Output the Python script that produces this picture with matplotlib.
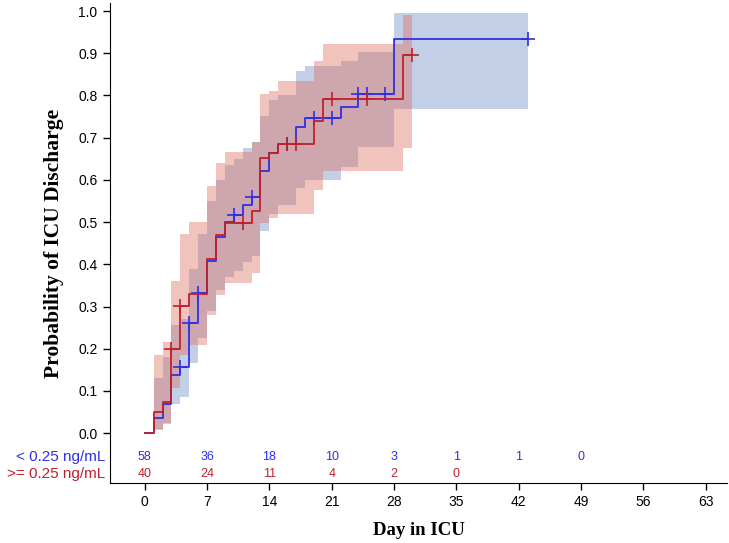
import numpy as np
import matplotlib.pyplot as plt
import matplotlib.transforms as mtransforms

# < 0.25 ng/mL group: step times, estimate, lower / upper CL
low_t = [0, 1, 2, 3, 4, 5, 6, 7, 8, 9, 10, 11, 12, 13, 14, 15, 17, 18, 22, 24, 28]
low_s = [0, 0.035, 0.069, 0.138, 0.156, 0.260, 0.333, 0.408, 0.464, 0.500, 0.518,
         0.540, 0.559, 0.622, 0.664, 0.686, 0.726, 0.746, 0.772, 0.803, 0.934]
low_lcl = [0, 0.007, 0.022, 0.070, 0.086, 0.167, 0.225, 0.290, 0.340, 0.370, 0.385,
           0.405, 0.420, 0.480, 0.520, 0.540, 0.580, 0.600, 0.630, 0.678, 0.768]
low_ucl = [0, 0.130, 0.180, 0.256, 0.270, 0.390, 0.473, 0.550, 0.600, 0.635, 0.650,
           0.675, 0.690, 0.751, 0.790, 0.800, 0.858, 0.870, 0.881, 0.904, 0.995]
low_end = 43
low_cens = [4, 5, 6, 10, 12, 16, 19, 21, 24, 25, 27, 43]

# >= 0.25 ng/mL group
high_t = [0, 1, 2, 3, 4, 5, 7, 8, 9, 12, 13, 14, 15, 19, 20, 29]
high_s = [0, 0.050, 0.074, 0.200, 0.302, 0.329, 0.413, 0.470, 0.498, 0.526,
          0.652, 0.663, 0.686, 0.740, 0.792, 0.897]
high_lcl = [0, 0.011, 0.025, 0.106, 0.185, 0.209, 0.280, 0.327, 0.355, 0.380,
            0.498, 0.510, 0.520, 0.575, 0.622, 0.676]
high_ucl = [0, 0.185, 0.215, 0.360, 0.473, 0.501, 0.585, 0.639, 0.667, 0.690,
            0.803, 0.810, 0.835, 0.881, 0.922, 0.990]
high_end = 30
high_cens = [3, 4, 11, 16, 17, 21, 25, 30]

# numbers at risk
risk_days = [0, 7, 14, 21, 28, 35, 42, 49]
risk_low = [58, 36, 18, 10, 3, 1, 1, 0]
risk_high = [40, 24, 11, 4, 2, 0]

blue = '#2f2fe6'
red = '#c0202c'

fig = plt.figure(figsize=(7.29, 5.43), dpi=100)
ax = fig.add_axes([110 / 729, 60 / 543, 617 / 729, 480 / 543])


def draw(t, s, lcl, ucl, end, cens, line_col, band_col):
    tt = list(t) + [end]
    ax.fill_between(tt, list(lcl) + [lcl[-1]], list(ucl) + [ucl[-1]], step='post',
                    color=band_col, alpha=0.4, linewidth=0)
    ax.step(tt, list(s) + [s[-1]], where='post', color=line_col, lw=1.3)
    idx = np.searchsorted(t, cens, side='right') - 1
    ax.plot(cens, np.array(s)[idx], '+', color=line_col, ms=10, mew=1.2)


draw(low_t, low_s, low_lcl, low_ucl, low_end, low_cens, blue, '#6b89c5')
draw(high_t, high_s, high_lcl, high_ucl, high_end, high_cens, red, '#de695a')

ax.set_xlim(-3.9, 65.4)
ax.set_ylim(-0.118, 1.019)
ax.set_xticks(range(0, 64, 7))
ax.set_yticks(np.arange(0, 1.01, 0.1))
ax.set_yticklabels([f'{v:.1f}' for v in np.arange(0, 1.01, 0.1)])
for sp in ['top', 'right']:
    ax.spines[sp].set_visible(False)
ax.tick_params(labelsize=10, length=5, width=1, pad=4)
for lab in ax.get_xticklabels() + ax.get_yticklabels():
    lab.set_fontfamily('Liberation Sans')

tr = mtransforms.blended_transform_factory(ax.transAxes, ax.transData)
y1, y2 = -0.057, -0.097
ax.text(-0.008, y1, '< 0.25 ng/mL', color=blue, ha='right', va='center',
        fontsize=11, family='Liberation Sans', transform=tr)
ax.text(-0.008, y2, '>= 0.25 ng/mL', color=red, ha='right', va='center',
        fontsize=11, family='Liberation Sans', transform=tr)
for d, n in zip(risk_days, risk_low):
    ax.text(d, y1, str(n), color=blue, ha='center', va='center', fontsize=9,
            family='Liberation Sans')
for d, n in zip(risk_days, risk_high):
    ax.text(d, y2, str(n), color=red, ha='center', va='center', fontsize=9,
            family='Liberation Sans')

ax.set_xlabel('Day in ICU', fontsize=13.5, fontweight='bold', family='Liberation Serif',
              labelpad=9)
ax.set_ylabel('Probability of ICU Discharge', fontsize=15.5, fontweight='bold',
              family='Liberation Serif', labelpad=10)

fig.savefig('out.png', dpi=100)
